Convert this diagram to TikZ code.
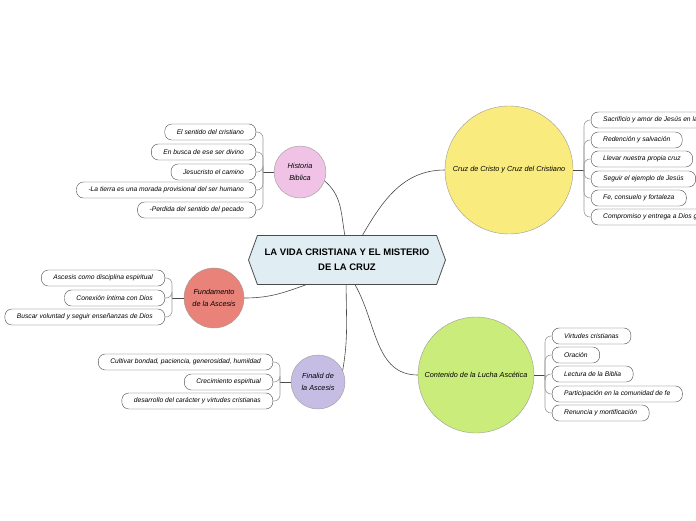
\documentclass[tikz,border=0pt]{standalone}
\usepackage{fontspec}
\setmainfont{Liberation Sans}
\usetikzlibrary{shapes.symbols}

\definecolor{hubfill}{HTML}{E0EEF4}
\definecolor{pinkfill}{HTML}{F0C3E6}
\definecolor{yellowfill}{HTML}{FAEB7E}
\definecolor{salmonfill}{HTML}{E9837A}
\definecolor{lavenderfill}{HTML}{C6BDE5}
\definecolor{greenfill}{HTML}{C9EC7A}
\definecolor{linegray}{HTML}{9A9A9A}
\definecolor{darkline}{HTML}{4A4A4A}

\tikzset{
  hub/.style={signal, signal to=west and east, signal pointer angle=140, draw=darkline, line width=0.8pt, fill=hubfill, minimum width=197pt, minimum height=49pt, align=center, font=\fontsize{9.5}{15}\selectfont\bfseries},
  topic/.style={circle, draw=linegray, line width=0.4pt, inner sep=0pt, align=center, font=\fontsize{7.3}{12}\selectfont\itshape},
  leaf/.style={rounded corners=7pt, draw=darkline, line width=0.4pt, fill=white, minimum height=16pt, inner xsep=12pt, inner ysep=0pt, font=\fontsize{6.7}{8}\selectfont\itshape},
  mainlink/.style={darkline, line width=0.6pt},
  leaflink/.style={linegray, line width=0.6pt, rounded corners=6pt}
}

\begin{document}
\begin{tikzpicture}[x=1pt, y=-1pt]
\useasboundingbox (0,0) rectangle (696,520);

% central node
\node[hub] (hub) at (347,260) {LA VIDA CRISTIANA Y EL MISTERIO\\DE LA CRUZ};

% topics
\node[topic, fill=pinkfill, minimum size=52pt] (hist) at (300,172) {Historia\\Biblica};
\node[topic, fill=yellowfill, minimum size=128pt] (cruz) at (509,170) {Cruz de Cristo y Cruz del Cristiano};
\node[topic, fill=salmonfill, minimum size=60pt] (fund) at (214,298) {Fundamento\\de la Ascesis};
\node[topic, fill=lavenderfill, minimum size=54pt] (fin) at (318,382) {Finalid de\\la Ascesis};
\node[topic, fill=greenfill, minimum size=116pt] (lucha) at (476,375) {Contenido de la Lucha Asc\'etica};

\draw[mainlink] (hist.-20) to[out=-40, in=100] (hub.95);
\draw[mainlink] (cruz.west) to[out=180, in=60] (hub.58);
\draw[mainlink] (fund.east) to[out=0, in=200] (hub.211);
\draw[mainlink] (fin.25) to[out=80, in=270] (hub.268);
\draw[mainlink] (lucha.west) to[out=180, in=300] (hub.288);

% Historia Biblica
\node[leaf, anchor=east] (hist1) at (256,132) {El sentido del cristiano};
\node[leaf, anchor=east] (hist2) at (256,152) {En busca de ese ser divino};
\node[leaf, anchor=east] (hist3) at (256,172) {Jesucristo el camino};
\node[leaf, anchor=east] (hist4) at (256,190) {-La tierra es una morada provisional del ser humano};
\node[leaf, anchor=east] (hist5) at (256,210) {-Perdida del sentido del pecado};
\coordinate (histj) at (263,172);
\draw[mainlink] (hist.west) -- (histj);
\foreach \i in {1,...,5} \draw[leaflink] (histj) |- (hist\i.east);

% Cruz de Cristo
\node[leaf, anchor=west] (cruz1) at (591,120) {Sacrificio y amor de Jes\'us en la cruz};
\node[leaf, anchor=west] (cruz2) at (591,140) {Redenci\'on y salvaci\'on};
\node[leaf, anchor=west] (cruz3) at (591,159) {Llevar nuestra propia cruz};
\node[leaf, anchor=west] (cruz4) at (591,179) {Seguir el ejemplo de Jes\'us};
\node[leaf, anchor=west] (cruz5) at (591,198) {Fe, consuelo y fortaleza};
\node[leaf, anchor=west] (cruz6) at (591,217) {Compromiso y entrega a Dios generosa};
\coordinate (cruzj) at (584,170);
\draw[mainlink] (cruz.east) -- (cruzj);
\foreach \i in {1,...,6} \draw[leaflink] (cruzj) |- (cruz\i.west);

% Fundamento de la Ascesis
\node[leaf, anchor=east] (fund1) at (165,278) {Ascesis como disciplina espiritual};
\node[leaf, anchor=east] (fund2) at (165,298) {Conexi\'on \'intima con Dios};
\node[leaf, anchor=east] (fund3) at (165,317) {Buscar voluntad y seguir ense\~nanzas de Dios};
\coordinate (fundj) at (172,298);
\draw[mainlink] (fund.west) -- (fundj);
\foreach \i in {1,...,3} \draw[leaflink] (fundj) |- (fund\i.east);

% Finalid de la Ascesis
\node[leaf, anchor=east] (fin1) at (273,362) {Cultivar bondad, paciencia, generosidad, humildad};
\node[leaf, anchor=east] (fin2) at (273,382) {Crecimiento espiritual};
\node[leaf, anchor=east] (fin3) at (273,401) {desarrollo del car\'acter y virtudes cristianas};
\coordinate (finj) at (280,382);
\draw[mainlink] (fin.west) -- (finj);
\foreach \i in {1,...,3} \draw[leaflink] (finj) |- (fin\i.east);

% Contenido de la Lucha Ascetica
\node[leaf, anchor=west] (lucha1) at (552,336) {Virtudes cristianas};
\node[leaf, anchor=west] (lucha2) at (552,355) {Oraci\'on};
\node[leaf, anchor=west] (lucha3) at (552,374) {Lectura de la Biblia};
\node[leaf, anchor=west] (lucha4) at (552,394) {Participaci\'on en la comunidad de fe};
\node[leaf, anchor=west] (lucha5) at (552,413) {Renuncia y mortificaci\'on};
\coordinate (luchaj) at (545,375);
\draw[mainlink] (lucha.east) -- (luchaj);
\foreach \i in {1,...,5} \draw[leaflink] (luchaj) |- (lucha\i.west);
\end{tikzpicture}
\end{document}
